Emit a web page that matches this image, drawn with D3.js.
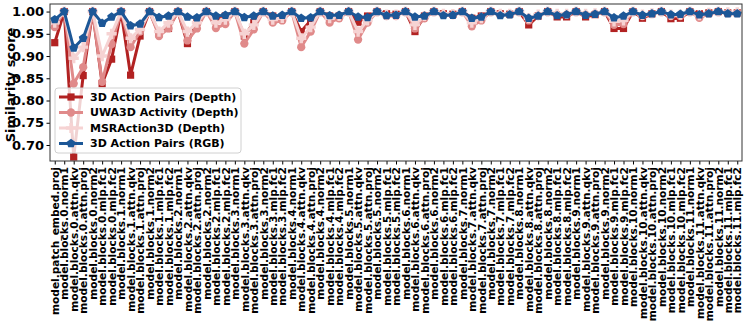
<!DOCTYPE html>
<html>
<head>
<meta charset="utf-8">
<script src="https://cdn.jsdelivr.net/npm/d3@7"></script>
<style>
  body { margin: 0; background: #fff; }
  text { font-family: "DejaVu Sans", sans-serif; font-weight: bold; }
</style>
</head>
<body>
<div id="chart"></div>
<script>
// Layer names: patch embedding, then 12 transformer blocks with 6 layers each
const blockParts = ['norm1', 'attn.qkv', 'attn.proj', 'norm2', 'mlp.fc1', 'mlp.fc2'];
const categories = ['model.patch_embed.proj']
  .concat(d3.range(12).flatMap(b => blockParts.map(p => `model.blocks.${b}.${p}`)));

const yTicks = [0.70, 0.75, 0.80, 0.85, 0.90, 0.95, 1.00];

const seriesNames = ['3D Action Pairs (Depth)', 'UWA3D Activity (Depth)', 'MSRAction3D (Depth)', '3D Action Pairs (RGB)'];

const actionPairsDepth = [
  0.930, 1.000, 0.673, 0.856, 1.000, 0.838, 0.893,
  1.000, 0.857, 0.945, 1.000, 0.950, 0.962,
  1.000, 0.928, 0.976, 1.000, 0.986, 0.990,
  1.000, 0.945, 0.975, 1.000, 0.990, 0.986,
  1.000, 0.955, 0.980, 1.000, 0.990, 0.990,
  1.000, 0.976, 0.990, 1.000, 0.995, 0.994,
  1.000, 0.955, 0.990, 1.000, 0.995, 0.994,
  1.000, 0.985, 0.990, 1.000, 0.995, 0.994,
  1.000, 0.970, 0.990, 1.000, 0.988, 0.988,
  1.000, 0.988, 0.993, 1.000, 0.962, 0.962,
  1.000, 0.985, 0.995, 1.000, 0.984, 0.985,
  1.000, 0.995, 0.997, 1.000, 0.997, 0.997
];

const uwa3dDepth = [
  0.965, 1.000, 0.838, 0.875, 1.000, 0.842, 0.927,
  1.000, 0.920, 0.955, 1.000, 0.945, 0.962,
  1.000, 0.935, 0.962, 1.000, 0.963, 0.972,
  1.000, 0.928, 0.960, 1.000, 0.975, 0.980,
  1.000, 0.920, 0.955, 1.000, 0.975, 0.985,
  1.000, 0.937, 0.975, 1.000, 0.990, 0.990,
  1.000, 0.962, 0.985, 1.000, 0.993, 0.992,
  1.000, 0.967, 0.980, 1.000, 0.993, 0.993,
  1.000, 0.980, 0.990, 1.000, 0.993, 0.993,
  1.000, 0.993, 0.995, 1.000, 0.970, 0.972,
  1.000, 0.990, 0.995, 1.000, 0.990, 0.990,
  1.000, 0.986, 0.995, 1.000, 0.997, 0.997
];

const msrDepth = [
  0.975, 1.000, 0.895, 0.920, 1.000, 0.900, 0.950,
  1.000, 0.940, 0.960, 1.000, 0.955, 0.975,
  1.000, 0.955, 0.975, 1.000, 0.975, 0.982,
  1.000, 0.950, 0.970, 1.000, 0.982, 0.986,
  1.000, 0.940, 0.965, 1.000, 0.985, 0.990,
  1.000, 0.955, 0.980, 1.000, 0.993, 0.993,
  1.000, 0.970, 0.990, 1.000, 0.995, 0.994,
  1.000, 0.975, 0.985, 1.000, 0.995, 0.995,
  1.000, 0.985, 0.993, 1.000, 0.995, 0.995,
  1.000, 0.995, 0.996, 1.000, 0.978, 0.980,
  1.000, 0.993, 0.996, 1.000, 0.993, 0.993,
  1.000, 0.992, 0.997, 1.000, 0.998, 0.998
];

const actionPairsRgb = [
  0.982, 1.000, 0.918, 0.940, 1.000, 0.974, 0.988,
  1.000, 0.968, 0.972, 1.000, 0.987, 0.990,
  1.000, 0.988, 0.986, 1.000, 0.990, 0.992,
  1.000, 0.987, 0.990, 1.000, 0.990, 0.992,
  1.000, 0.985, 0.986, 1.000, 0.991, 0.992,
  1.000, 0.988, 0.987, 1.000, 0.991, 0.992,
  1.000, 0.988, 0.990, 1.000, 0.991, 0.992,
  1.000, 0.985, 0.988, 1.000, 0.991, 0.993,
  1.000, 0.985, 0.990, 1.000, 0.991, 0.993,
  1.000, 0.992, 0.994, 1.000, 0.986, 0.990,
  1.000, 0.992, 0.995, 1.000, 0.993, 0.994,
  1.000, 0.993, 0.995, 1.000, 0.995, 0.995
];

// pentagon marker (matplotlib 'p')
const symbolPentagon = {
  draw(context, size) {
    const r = Math.sqrt(size / 2.378);
    for (let i = 0; i < 5; i++) {
      const a = -Math.PI / 2 + i * 2 * Math.PI / 5;
      const x = r * Math.cos(a), y = r * Math.sin(a);
      if (i === 0) context.moveTo(x, y); else context.lineTo(x, y);
    }
    context.closePath();
  }
};

const series = [
  { name: seriesNames[0], values: actionPairsDepth, color: '#b22222', symbol: d3.symbolSquare, size: 52 },
  { name: seriesNames[1], values: uwa3dDepth, color: '#e08a8a', symbol: d3.symbolCircle, size: 54 },
  { name: seriesNames[2], values: msrDepth, color: '#f6d3d3', symbol: d3.symbolCross, size: 58 },
  { name: seriesNames[3], values: actionPairsRgb, color: '#1c5797', symbol: symbolPentagon, size: 52 }
];

const W = 748, H = 327;
const plot = { left: 50, right: 742, top: 4, bottom: 161 };

const svg = d3.select('#chart').append('svg')
  .attr('width', W)
  .attr('height', H);

const x = d3.scalePoint()
  .domain(categories)
  .range([plot.left, plot.right])
  .padding(0.5);

const y = d3.scaleLinear()
  .domain([0.664, 1.017])
  .range([plot.bottom, plot.top]);

// clip for lines
svg.append('clipPath').attr('id', 'clip')
  .append('rect')
  .attr('x', plot.left).attr('y', plot.top)
  .attr('width', plot.right - plot.left).attr('height', plot.bottom - plot.top);

const line = d3.line()
  .x((d, i) => x(categories[i]))
  .y(d => y(d));

const marks = svg.append('g').attr('clip-path', 'url(#clip)');

series.forEach(s => {
  const g = marks.append('g');
  g.append('path')
    .datum(s.values)
    .attr('d', line)
    .attr('fill', 'none')
    .attr('stroke', s.color)
    .attr('stroke-width', 3)
    .attr('stroke-linejoin', 'round');
  g.selectAll('path.pt')
    .data(s.values)
    .enter()
    .append('path')
    .attr('class', 'pt')
    .attr('d', d3.symbol().type(s.symbol).size(s.size))
    .attr('transform', (d, i) => `translate(${x(categories[i])},${y(d)})`)
    .attr('fill', s.color);
});

// axes
const xAxis = svg.append('g')
  .attr('transform', `translate(0,${plot.bottom})`)
  .call(d3.axisBottom(x).tickSize(3.5).tickSizeOuter(0));
xAxis.select('.domain').remove();
xAxis.selectAll('text')
  .attr('transform', 'rotate(-90)')
  .attr('text-anchor', 'end')
  .attr('x', -6)
  .attr('y', 0)
  .attr('dy', '0.35em')
  .style('font-size', '10.6px')
  .attr('fill', '#000');

const yAxis = svg.append('g')
  .attr('transform', `translate(${plot.left},0)`)
  .call(d3.axisLeft(y).tickValues(yTicks).tickFormat(d3.format('.2f')).tickSize(3.5).tickSizeOuter(0));
yAxis.select('.domain').remove();
yAxis.selectAll('text')
  .attr('x', -6)
  .style('font-size', '13px')
  .attr('fill', '#000');

// frame
svg.append('rect')
  .attr('x', plot.left).attr('y', plot.top)
  .attr('width', plot.right - plot.left).attr('height', plot.bottom - plot.top)
  .attr('fill', 'none')
  .attr('stroke', '#333')
  .attr('stroke-width', 1);

svg.append('text')
  .attr('transform', `translate(10,85) rotate(-90)`)
  .attr('text-anchor', 'middle')
  .attr('dy', '0.35em')
  .style('font-size', '13px')
  .text('Similarity score');

// legend
const legend = svg.append('g').attr('transform', 'translate(55,88)');
legend.append('rect')
  .attr('width', 186).attr('height', 65)
  .attr('rx', 3)
  .attr('fill', 'rgba(255,255,255,0.8)')
  .attr('stroke', '#d0d0d0');

const items = legend.selectAll('.legend-item')
  .data(series)
  .enter()
  .append('g')
  .attr('class', 'legend-item')
  .attr('transform', (d, i) => `translate(0,${9 + i * 15.5})`);

items.append('line')
  .attr('x1', 4).attr('x2', 28)
  .attr('stroke', d => d.color)
  .attr('stroke-width', 3);
items.append('path')
  .attr('d', d => d3.symbol().type(d.symbol).size(d.size)())
  .attr('transform', 'translate(16,0)')
  .attr('fill', d => d.color);
items.append('text')
  .attr('x', 35)
  .attr('dy', '0.35em')
  .style('font-size', '11px')
  .text(d => d.name);
</script>
</body>
</html>
